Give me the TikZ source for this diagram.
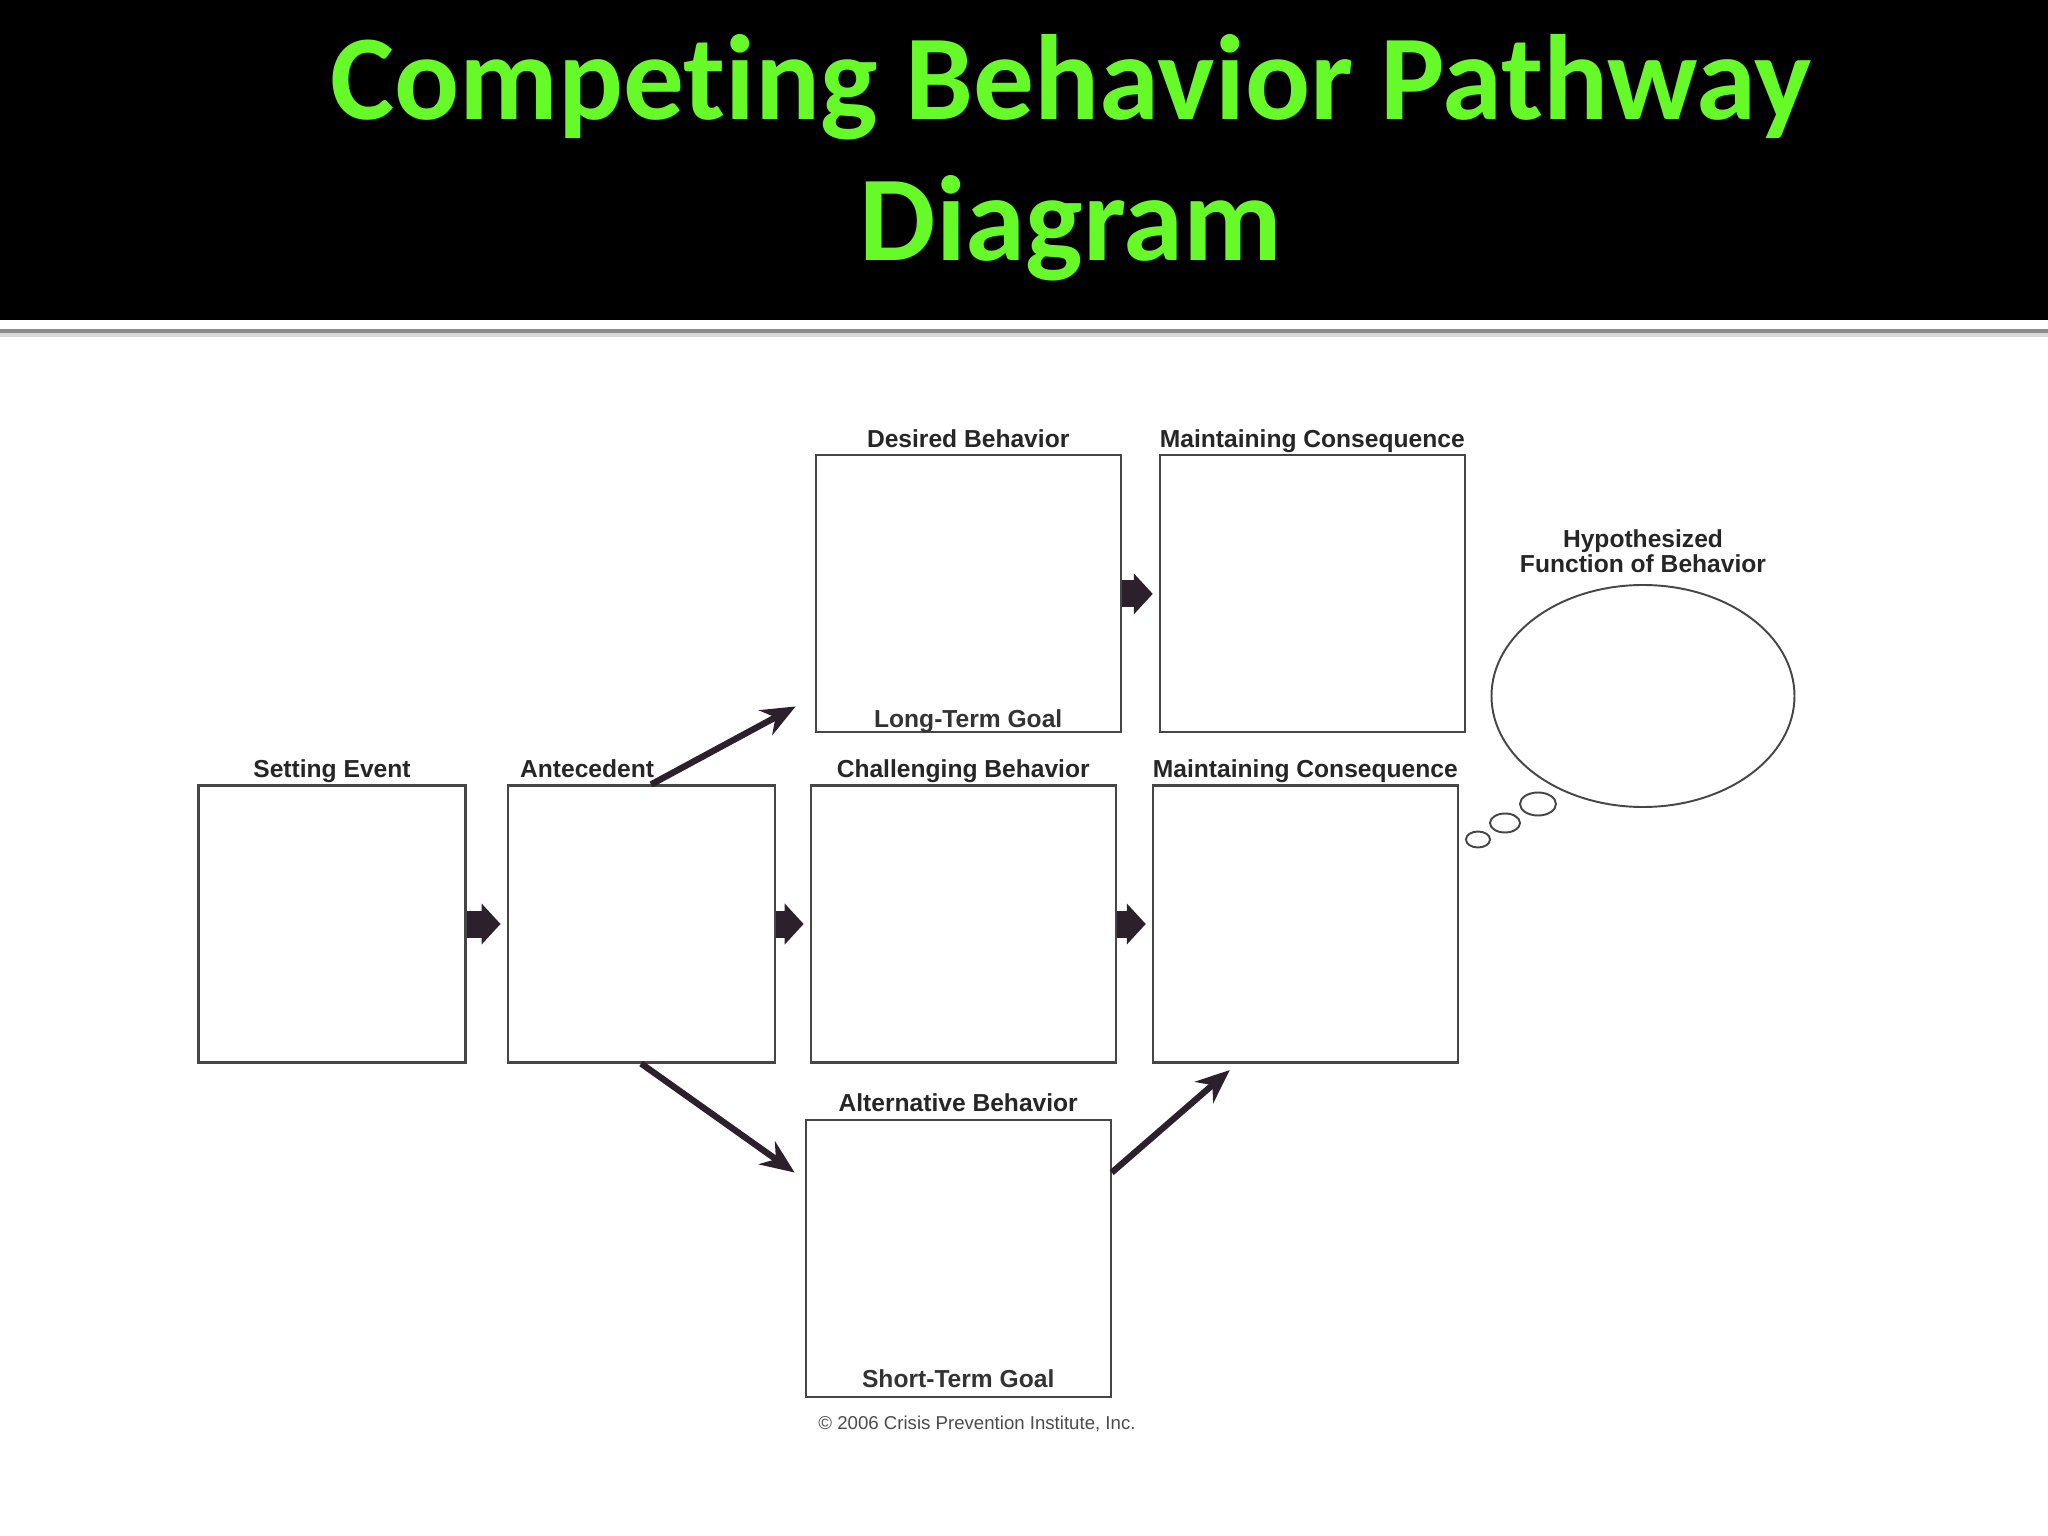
\documentclass[tikz,border=0pt]{standalone}
\usepackage{fontspec}
\setmainfont{Liberation Sans}
\newfontfamily\titlefont[Ligatures=NoCommon]{Carlito}
\usetikzlibrary{arrows.meta,positioning,shapes.geometric}

\definecolor{titlegreen}{RGB}{102,250,40}
\definecolor{inkdark}{RGB}{44,32,44}
\definecolor{lineink}{RGB}{70,70,70}

\begin{document}
\begin{tikzpicture}
[box/.style={rectangle,draw=lineink,line width=0.6pt,
inner sep=0pt,minimum width=2.67cm,minimum height=2.77cm},
widebox/.style={box,minimum width=3.05cm},
every label/.style={font=\bfseries\fontsize{7}{7}\selectfont,text=black!85,
inner sep=0pt,text depth=0pt},
label distance=0.06cm,
goal/.style={font=\bfseries\fontsize{7}{7}\selectfont,text=black!80,
anchor=base,inner sep=0pt},
bubble/.style={ellipse,draw=lineink,line width=0.55pt,inner sep=0pt},
block/.style={-{Triangle[length=1.9mm,width=4mm]},line width=2.7mm,
draw=inkdark,shorten >=0.06cm},
diag/.style={-{Stealth[length=3.4mm,width=2.8mm]},line width=1.8pt,draw=inkdark},
heading/.style={text=titlegreen,font=\titlefont\bfseries\fontsize{34.5}{40}\selectfont,
anchor=base}]

\useasboundingbox (0,0) rectangle (20.48,-15.36);
\fill[white] (0,-3.20) rectangle (20.48,-15.36);
\fill[black] (0,0) rectangle (20.48,-3.20);
% rule under the title bar
\fill[black!45] (0,-3.29) rectangle (20.48,-3.335);
\fill[black!15] (0,-3.335) rectangle (20.48,-3.37);

\node[heading] (title) at (10.71,-1.20) {Competing Behavior Pathway};
\node[heading] (subtitle) at (10.71,-2.61) {Diagram};

\node[box] (setting) at (3.32,-9.24) [label=above:Setting Event] {};
\node[box] (antecedent) [right=0.40cm of setting,
label={[xshift=-0.54cm]above:Antecedent}] {};
\node[widebox] (challenging) [right=0.34cm of antecedent,
label=above:Challenging Behavior] {};
\node[widebox] (maintainB) [right=0.35cm of challenging,
label=above:Maintaining Consequence] {};

\node[widebox] (desired) [above=0.51cm of challenging, xshift=0.05cm,
label=above:Desired Behavior] {};
\node[widebox] (maintainA) [right=0.37cm of desired,
label=above:Maintaining Consequence] {};
\node[widebox] (alternative) [below=0.55cm of challenging, xshift=-0.05cm,
label=above:Alternative Behavior] {};

\node[goal] (longterm) at ([yshift=0.06cm]desired.south) {Long-Term Goal};
\node[goal] (shortterm) at ([yshift=0.10cm]alternative.south) {Short-Term Goal};

% thought bubble
\node[bubble,minimum width=3.03cm,minimum height=2.22cm] (function) at (16.43,-6.96)
[label={[align=center,label distance=0.11cm]above:Hypothesized\\Function of Behavior}] {};
\node[bubble,minimum width=0.36cm,minimum height=0.23cm] (bubble1) at (15.38,-8.04) {};
\node[bubble,minimum width=0.30cm,minimum height=0.19cm] (bubble2) at (15.05,-8.23) {};
\node[bubble,minimum width=0.24cm,minimum height=0.16cm] (bubble3) at (14.78,-8.395) {};

\node[anchor=base,font=\fontsize{5.3}{6}\selectfont,text=black!70] (copyright)
at (9.77,-14.29) {© 2006 Crisis Prevention Institute, Inc.};

\draw[block] (setting) -- (antecedent);
\draw[block] (antecedent) -- (challenging);
\draw[block] (challenging) -- (maintainB);
\draw[block] (desired) -- (maintainA);

\coordinate[above left=0.27cm and 0.19cm of desired.south west] (upend);
\coordinate[below left=0.54cm and 0.10cm of alternative.north west] (downend);
\coordinate[below right=0.065cm and 0.78cm of maintainB.south west] (rightend);
\draw[diag] ([xshift=0.1cm]antecedent.north) -- (upend);
\draw[diag] (antecedent.south) -- (downend);
\draw[diag] ([yshift=-0.54cm]alternative.north east) -- (rightend);

\end{tikzpicture}
\end{document}
